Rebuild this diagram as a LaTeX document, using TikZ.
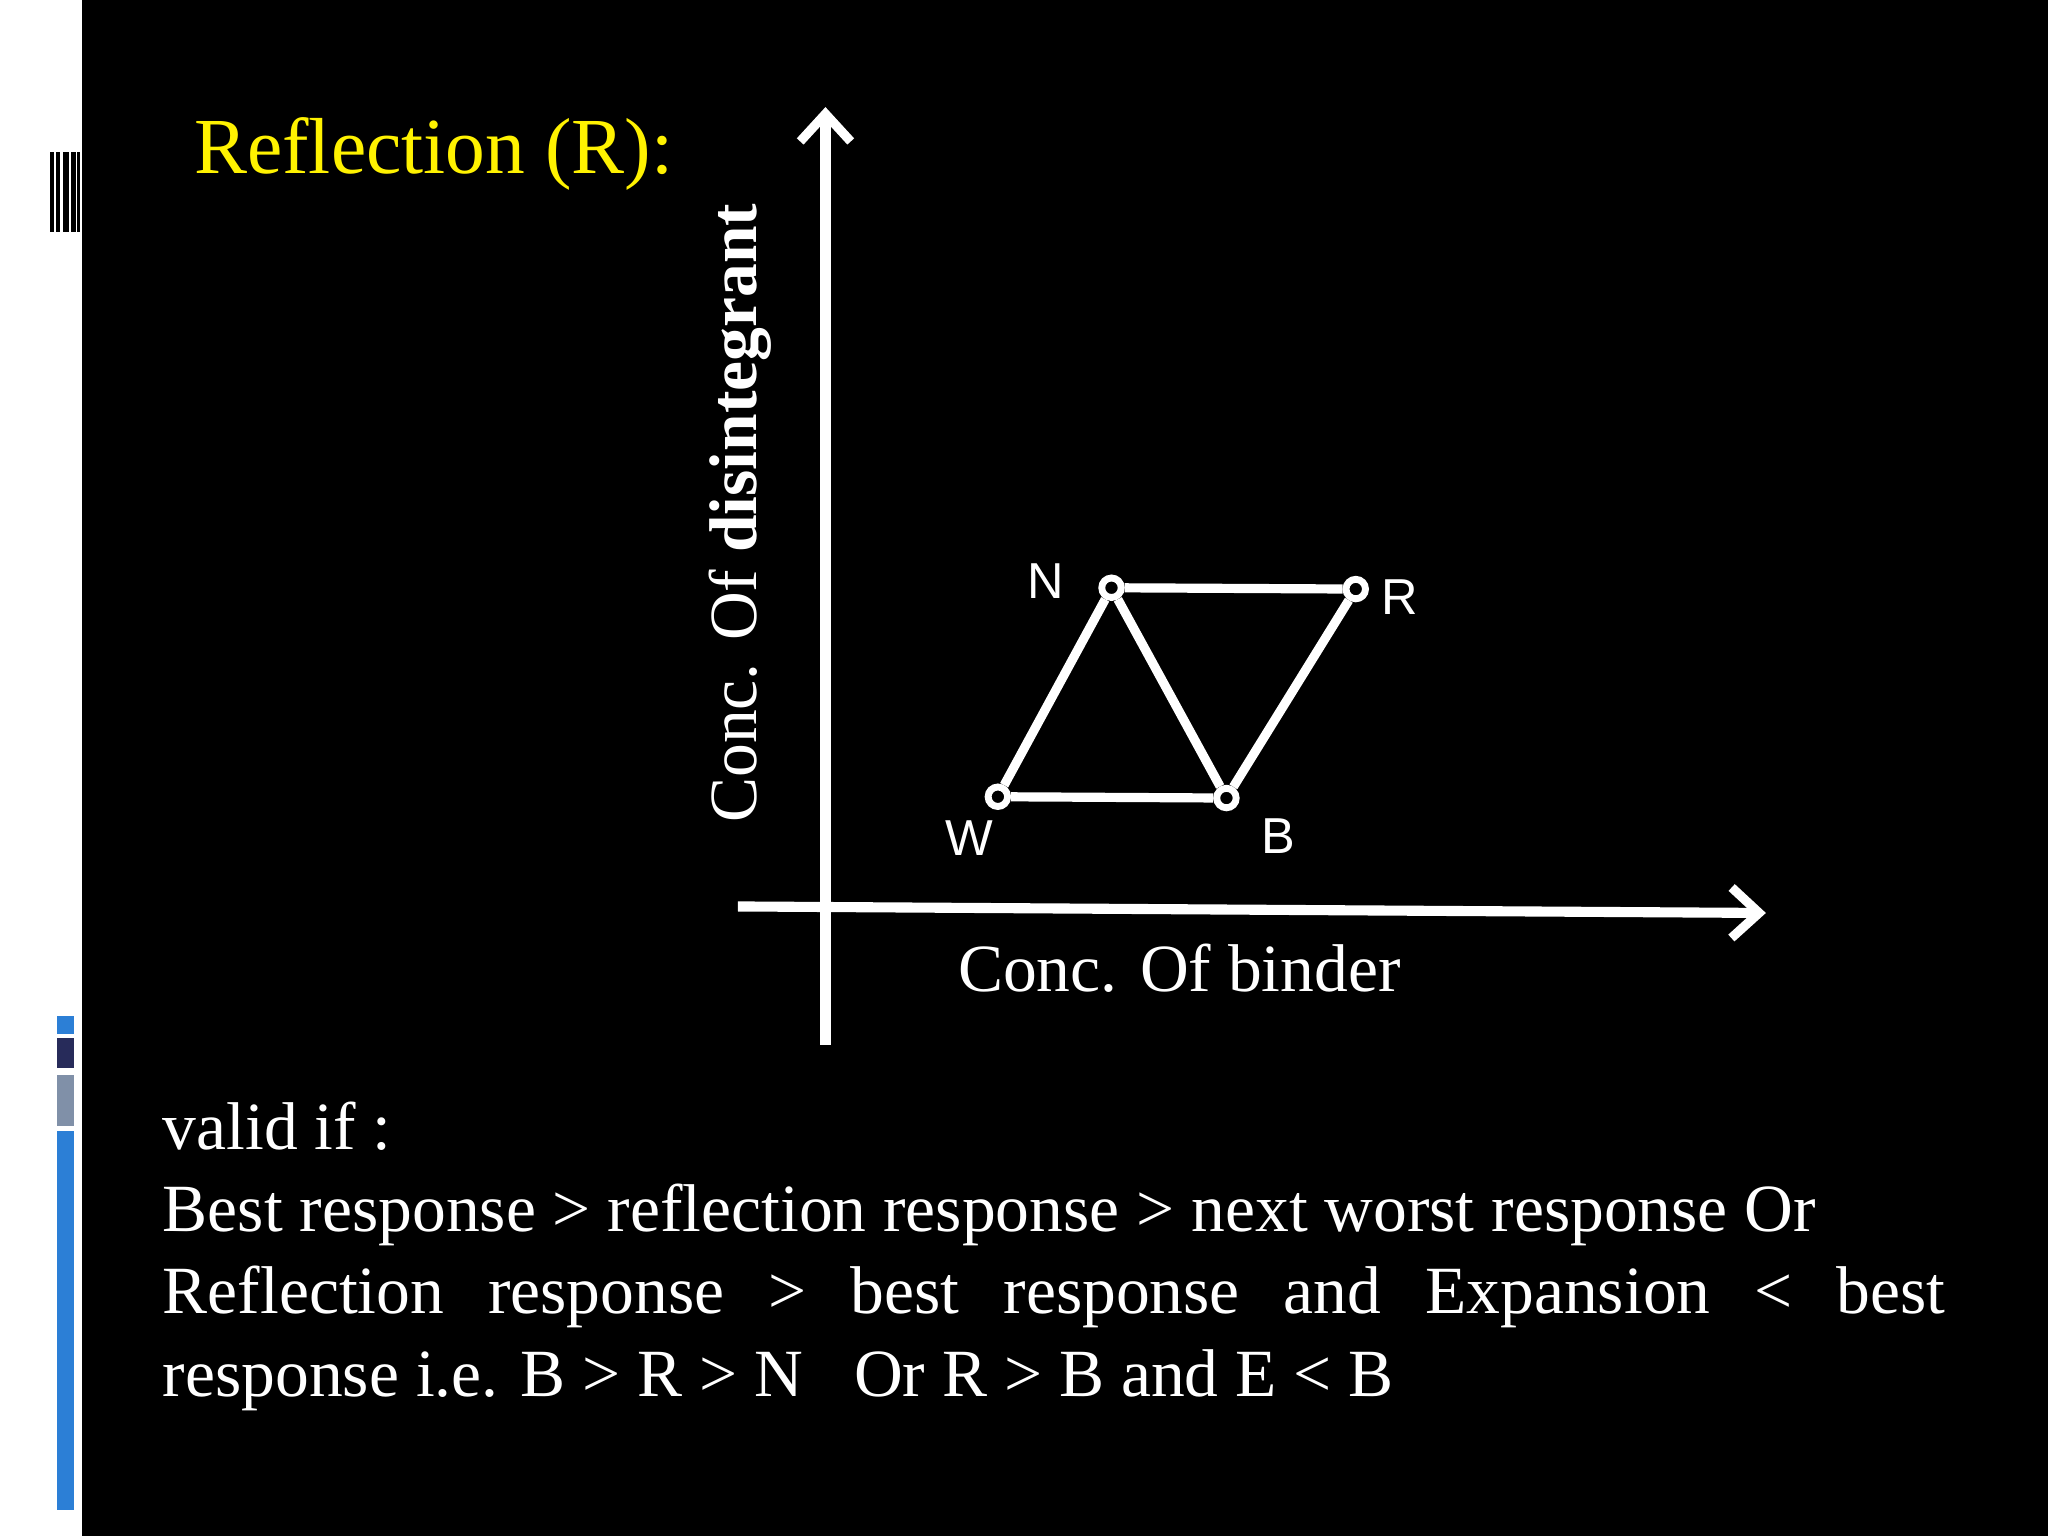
\documentclass[tikz,border=0pt]{standalone}
\usepackage{fontspec}
\setmainfont{Liberation Serif}
\newfontfamily\lsans{Liberation Sans}
\usetikzlibrary{arrows.meta}
\definecolor{sblue}{HTML}{2C7FD6}
\definecolor{snavy}{HTML}{272B5A}
\definecolor{sgray}{HTML}{8090A8}
\begin{document}
\begin{tikzpicture}[x=0.01cm,y=-0.01cm,
  ax/.style={white,line width=2.2pt,-{Straight Barb[length=6pt,width=11pt,line width=2pt]}},
  ed/.style={white,line width=2pt},
  pt/.style={circle,draw=white,fill=black,line width=1.5pt,inner sep=1.5pt},
  plab/.style={text=white,font=\lsans\fontsize{11}{13}\selectfont},
  body/.style={text=white,anchor=base west,inner sep=0pt,font=\fontsize{14.7}{18}\selectfont}]
\useasboundingbox (0,0) rectangle (1568,1176);
\fill[white] (0,0) rectangle (63,1176);
\fill[black] (63,0) rectangle (1568,1176);
% barcode
\foreach \a/\b in {38/41,43/46,48/53,54/58,59/61}{\fill[black] (\a,116) rectangle (\b,178);}
% side blocks
\fill[sblue] (44,778) rectangle (57,792);
\fill[snavy] (44,795) rectangle (57,818);
\fill[sgray] (44,823) rectangle (57,862);
\fill[sblue] (44,866) rectangle (57,1156);
\node[text=yellow,anchor=base west,inner sep=0pt,font=\fontsize{17.3}{20}\selectfont] (title) at (148,133) {Reflection (R):};
% axes
\coordinate (yb) at (632,800); \coordinate (yt) at (632,82);
\coordinate (xl) at (565,694); \coordinate (xr) at (1352,699);
\draw[ax] (yb) -- (yt);
\draw[ax] (xl) -- (xr);
\node[text=white,rotate=90,font=\fontsize{14.7}{18}\selectfont] (ylab) at (567,393) {Conc. Of \textbf{disintegrant}};
\node[text=white,font=\fontsize{14.7}{18}\selectfont] (xlab) at (903,741) {Conc. Of binder};
% simplex
\node[pt] (N) at (851,450) {};
\node[pt] (R) at (1038,451) {};
\node[pt] (W) at (764,610) {};
\node[pt] (B) at (939,611) {};
\draw[ed] (W) -- (N); \draw[ed] (N) -- (R); \draw[ed] (R) -- (B);
\draw[ed] (B) -- (W); \draw[ed] (N) -- (B);
\node[plab] (Nl) at (801,445) {N};
\node[plab] (Rl) at (1072,457) {R};
\node[plab] (Wl) at (742,642) {W};
\node[plab] (Bl) at (979,640) {B};
% text
\node[body] (t1) at (124,880) {valid if :};
\node[body] (t2) at (124,943) {Best response > reflection response > next worst response Or};
\node[body] (t3) at (124,1006) {\hbox to 13.64cm{Reflection\hfill response\hfill >\hfill best\hfill response\hfill and\hfill Expansion\hfill <\hfill best}};
\node[body] (t4) at (124,1069) {response i.e. B > R > N \ \ Or R > B and E < B};
\end{tikzpicture}
\end{document}
